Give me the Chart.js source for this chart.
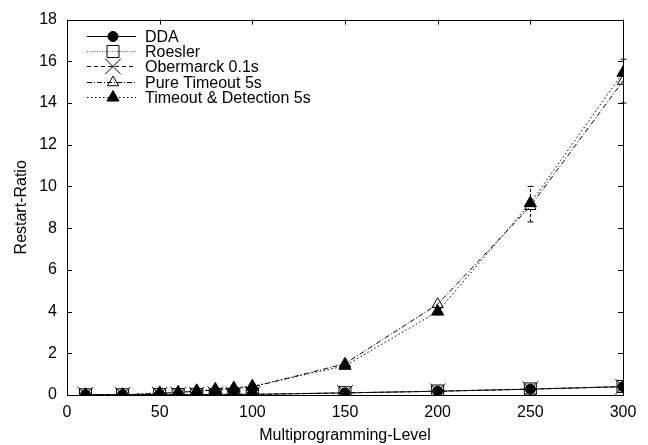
<!DOCTYPE html>
<html lang="en">
<head>
  <meta charset="UTF-8">
  <title>Restart-Ratio</title>
  <script src="https://cdn.jsdelivr.net/npm/chart.js"></script>
  <style>
    body { margin: 0; background: #fff; }
    #wrap { width: 648px; height: 445px; }
  </style>
</head>
<body>
<div id="wrap"><canvas id="myChart" width="648" height="445"></canvas></div>

<script>
// data
const mplLevels = [10, 30, 50, 60, 70, 80, 90, 100, 150, 200, 250, 300];
const ddaValues = [0.01, 0.01, 0.02, 0.02, 0.02, 0.03, 0.03, 0.03, 0.1, 0.18, 0.28, 0.4];
const roeslerValues = [0.01, 0.01, 0.02, 0.02, 0.03, 0.03, 0.03, 0.04, 0.11, 0.19, 0.29, 0.41];
const obermarckValues = [0.01, 0.01, 0.02, 0.02, 0.02, 0.03, 0.03, 0.03, 0.1, 0.18, 0.28, 0.4];
const pureTimeoutValues = [0.01, 0.01, 0.08, 0.12, 0.18, 0.24, 0.3, 0.38, 1.5, 4.35, 9.05, 15.05];
const tdValues = [0.01, 0.01, 0.1, 0.13, 0.2, 0.27, 0.33, 0.42, 1.4, 4.0, 9.2, 15.45];
const tdErrLow = [null, null, null, null, null, null, null, null, null, 3.85, 8.3, 14.0];
const tdErrHigh = [null, null, null, null, null, null, null, null, null, 4.15, 10.0, 16.1];
const xTicks = [0, 50, 100, 150, 200, 250, 300];
const yTicks = [0, 2, 4, 6, 8, 10, 12, 14, 16, 18];

const FAMILY = '"Liberation Sans", Arial, sans-serif';
const FSIZE = 16;

const series = [
  { label: 'DDA', data: ddaValues, style: 'circle', r: 5, fill: true, dash: [], color: '#000' },
  { label: 'Roesler', data: roeslerValues, style: 'rect', r: 8.5, fill: false, dash: [1, 1.5], color: '#555' },
  { label: 'Obermarck 0.1s', data: obermarckValues, style: 'crossRot', r: 11, fill: false, dash: [4, 3], color: '#000' },
  { label: 'Pure Timeout 5s', data: pureTimeoutValues, style: 'triangle', r: 6.5, fill: false, dash: [5, 2, 1, 2], color: '#000' },
  { label: 'Timeout & Detection 5s', data: tdValues, style: 'triangle', r: 7, fill: true, dash: [1.5, 2.5], color: '#000' }
];

const datasets = series.map((s, i) => ({
  label: s.label,
  data: mplLevels.map((x, j) => ({ x: x, y: s.data[j] })),
  showLine: true,
  borderColor: s.color,
  borderWidth: 1,
  borderDash: s.dash,
  pointStyle: s.style,
  pointRadius: s.r,
  pointHoverRadius: s.r,
  pointBorderColor: '#000',
  pointBorderWidth: 1,
  pointBackgroundColor: s.fill ? '#000' : 'rgba(0,0,0,0)',
  order: series.length - i
}));

// small marker drawing for the legend
function drawMarker(ctx, s, x, y) {
  ctx.save();
  ctx.setLineDash([]);
  ctx.strokeStyle = '#000';
  ctx.fillStyle = '#000';
  ctx.lineWidth = 1;
  ctx.beginPath();
  if (s.style === 'circle') {
    ctx.arc(x, y, s.r, 0, Math.PI * 2);
  } else if (s.style === 'rect') {
    const h = s.r * Math.SQRT1_2;
    ctx.rect(x - h, y - h, 2 * h, 2 * h);
  } else if (s.style === 'crossRot') {
    const h = s.r * Math.SQRT1_2;
    ctx.moveTo(x - h, y - h); ctx.lineTo(x + h, y + h);
    ctx.moveTo(x - h, y + h); ctx.lineTo(x + h, y - h);
  } else if (s.style === 'triangle') {
    const a = s.r;
    ctx.moveTo(x, y - a);
    ctx.lineTo(x + a * Math.cos(Math.PI / 6), y + a / 2);
    ctx.lineTo(x - a * Math.cos(Math.PI / 6), y + a / 2);
    ctx.closePath();
  }
  if (s.fill) ctx.fill();
  ctx.stroke();
  ctx.restore();
}

const framePlugin = {
  id: 'frame',
  afterDatasetsDraw(chart) {
    const ctx = chart.ctx;
    const a = chart.chartArea;
    const xs = chart.scales.x, ys = chart.scales.y;

    // error bars
    ctx.save();
    ctx.strokeStyle = '#000';
    ctx.lineWidth = 1;
    mplLevels.forEach((x, j) => {
      if (tdErrLow[j] == null) return;
      const px = Math.round(xs.getPixelForValue(x)) + 0.5;
      const lo = ys.getPixelForValue(tdErrLow[j]);
      const hi = ys.getPixelForValue(tdErrHigh[j]);
      ctx.setLineDash([3, 2]);
      ctx.beginPath();
      ctx.moveTo(px, lo); ctx.lineTo(px, hi);
      ctx.stroke();
      ctx.setLineDash([]);
      ctx.beginPath();
      ctx.moveTo(px - 3, lo); ctx.lineTo(px + 3, lo);
      ctx.moveTo(px - 3, hi); ctx.lineTo(px + 3, hi);
      ctx.stroke();
    });
    ctx.restore();

    // box and inward ticks
    ctx.save();
    ctx.strokeStyle = '#000';
    ctx.lineWidth = 1;
    ctx.setLineDash([]);
    ctx.strokeRect(Math.round(a.left) + 0.5, Math.round(a.top) + 0.5,
      Math.round(a.right - a.left), Math.round(a.bottom - a.top));
    ctx.beginPath();
    xTicks.forEach(v => {
      const px = Math.round(xs.getPixelForValue(v)) + 0.5;
      ctx.moveTo(px, a.bottom); ctx.lineTo(px, a.bottom - 5);
      ctx.moveTo(px, a.top); ctx.lineTo(px, a.top + 5);
    });
    yTicks.forEach(v => {
      const py = Math.round(ys.getPixelForValue(v)) + 0.5;
      ctx.moveTo(a.left, py); ctx.lineTo(a.left + 5, py);
      ctx.moveTo(a.right, py); ctx.lineTo(a.right - 5, py);
    });
    ctx.stroke();

    // legend
    ctx.font = FSIZE + 'px ' + FAMILY;
    ctx.textBaseline = 'middle';
    ctx.fillStyle = '#000';
    series.forEach((s, i) => {
      const y = Math.round(a.top + 16 + i * 15.3) + 0.5;
      ctx.strokeStyle = s.color;
      ctx.setLineDash(s.dash);
      ctx.beginPath();
      ctx.moveTo(87, y); ctx.lineTo(136, y);
      ctx.stroke();
      drawMarker(ctx, s, 113, y);
      ctx.fillText(s.label, 145, y + 1);
    });
    ctx.restore();
  }
};

const ctx = document.getElementById('myChart').getContext('2d');
new Chart(ctx, {
  type: 'scatter',
  data: { datasets: datasets },
  plugins: [framePlugin],
  options: {
    responsive: false,
    animation: false,
    layout: { padding: { top: 15, right: 25, left: 0, bottom: 0 } },
    plugins: { legend: { display: false }, tooltip: { enabled: false } },
    scales: {
      x: {
        type: 'linear', min: 0, max: 300,
        afterBuildTicks: s => { s.ticks = xTicks.map(v => ({ value: v })); },
        afterFit: s => { s.height = 50; },
        grid: { display: false, drawTicks: false },
        border: { display: false },
        ticks: { color: '#000', font: { family: FAMILY, size: FSIZE }, padding: 8 },
        title: { display: true, text: 'Multiprogramming-Level', color: '#000',
          font: { family: FAMILY, size: FSIZE }, padding: { top: 2, bottom: 0 } }
      },
      y: {
        type: 'linear', min: 0, max: 18,
        afterBuildTicks: s => { s.ticks = yTicks.map(v => ({ value: v })); },
        afterFit: s => { s.width = 67; },
        grid: { display: false, drawTicks: false },
        border: { display: false },
        ticks: { color: '#000', font: { family: FAMILY, size: FSIZE }, padding: 10 },
        title: { display: true, text: 'Restart-Ratio', color: '#000',
          font: { family: FAMILY, size: FSIZE }, padding: { top: 12, bottom: 0 } }
      }
    }
  }
});
</script>
</body>
</html>
